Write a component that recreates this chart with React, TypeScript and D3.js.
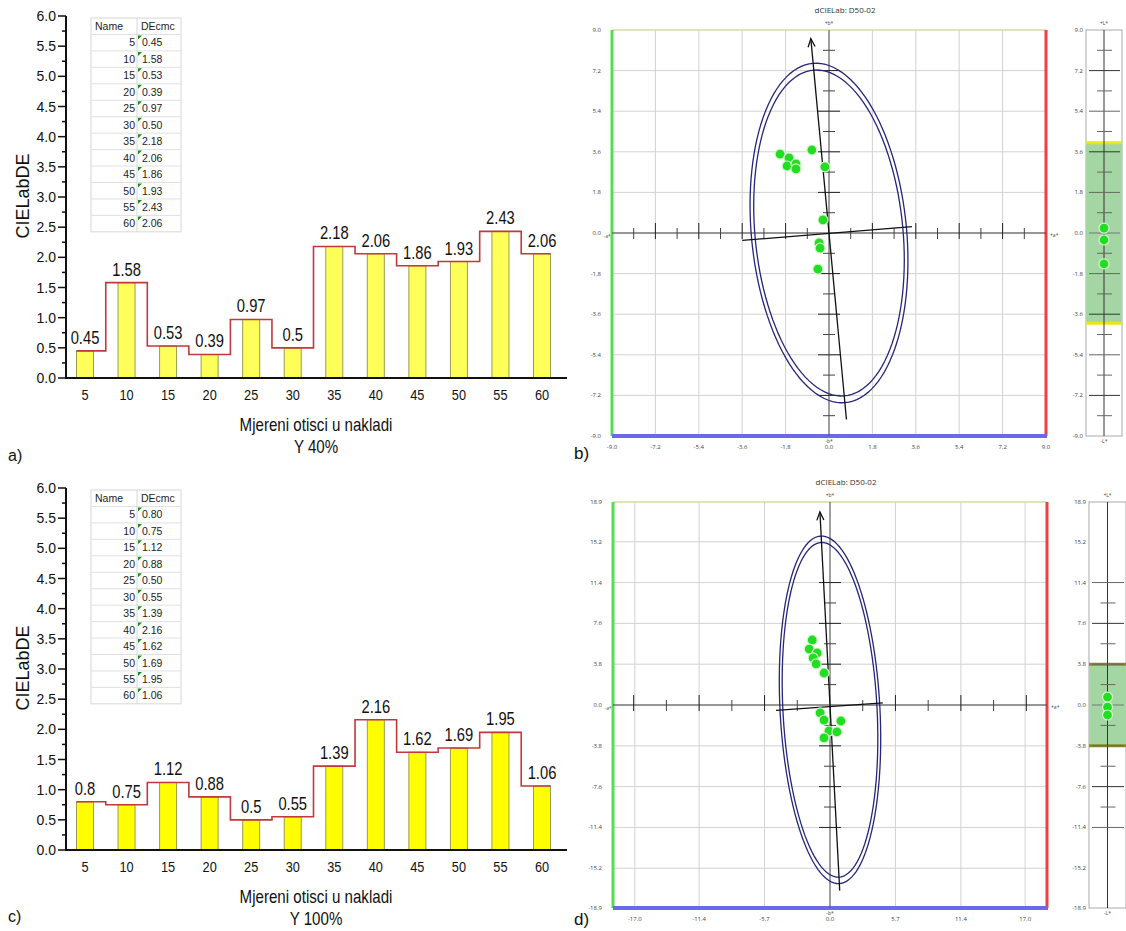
import React from "react";
import * as d3 from "d3";

// ---------- Bar charts (a, c) ----------
const categories = [5, 10, 15, 20, 25, 30, 35, 40, 45, 50, 55, 60];
const deY40 = [0.45, 1.58, 0.53, 0.39, 0.97, 0.5, 2.18, 2.06, 1.86, 1.93, 2.43, 2.06];
const deY40Labels = ["0.45", "1.58", "0.53", "0.39", "0.97", "0.5", "2.18", "2.06", "1.86", "1.93", "2.43", "2.06"];
const deY40Table = ["0.45", "1.58", "0.53", "0.39", "0.97", "0.50", "2.18", "2.06", "1.86", "1.93", "2.43", "2.06"];
const deY100 = [0.8, 0.75, 1.12, 0.88, 0.5, 0.55, 1.39, 2.16, 1.62, 1.69, 1.95, 1.06];
const deY100Labels = ["0.8", "0.75", "1.12", "0.88", "0.5", "0.55", "1.39", "2.16", "1.62", "1.69", "1.95", "1.06"];
const deY100Table = ["0.80", "0.75", "1.12", "0.88", "0.50", "0.55", "1.39", "2.16", "1.62", "1.69", "1.95", "1.06"];
const deMajorTicks = [0, 0.5, 1, 1.5, 2, 2.5, 3, 3.5, 4, 4.5, 5, 5.5, 6];
const deTickLabels = ["0.0", "0.5", "1.0", "1.5", "2.0", "2.5", "3.0", "3.5", "4.0", "4.5", "5.0", "5.5", "6.0"];
const deMinorTicks = [0.25, 0.75, 1.25, 1.75, 2.25, 2.75, 3.25, 3.75, 4.25, 4.75, 5.25, 5.75];
const tableHeader = ["Name", "DEcmc"];
const xTitle = "Mjereni otisci u nakladi";
const yTitle = "CIELabDE";

// ---------- Scatter plots (b, d) ----------
const plotTitle = "dCIELab: D50-02";
const bTickValues = [-9, -7.2, -5.4, -3.6, -1.8, 0, 1.8, 3.6, 5.4, 7.2, 9];
const bTickLabels = ["-9.0", "-7.2", "-5.4", "-3.6", "-1.8", "0.0", "1.8", "3.6", "5.4", "7.2", "9.0"];
const bGrid = [-7.2, -5.4, -3.6, -1.8, 0, 1.8, 3.6, 5.4, 7.2];
const bA = [-2.03, -1.66, -1.74, -1.37, -1.37, -0.71, -0.17, -0.25, -0.41, -0.37, -0.46];
const bB = [3.5, 3.33, 2.97, 3.06, 2.84, 3.68, 2.93, 0.58, -0.44, -0.67, -1.6];
const bL = [0.22, -0.31, -1.37];
const bEllipseOuter = [3.22, 7.55];
const bEllipseInner = [3.07, 7.25];
const bAngle = 5;
const bCenter = [0, 0];
const bMajorAxis = [-8.3, 8.65];
const bMinorAxis = [[-3.6, -0.33], [3.44, 0.28]];
const bBand = [-4.0, 4.0];

const dXTickValues = [-17, -11.4, -5.7, 0, 5.7, 11.4, 17];
const dXTickLabels = ["-17.0", "-11.4", "-5.7", "0.0", "5.7", "11.4", "17.0"];
const dYTickValues = [18.9, 15.2, 11.4, 7.6, 3.8, 0, -3.8, -7.6, -11.4, -15.2, -18.9];
const dYTickLabels = ["18.9", "15.2", "11.4", "7.6", "3.8", "0.0", "-3.8", "-7.6", "-11.4", "-15.2", "-18.9"];
const dXGrid = [-17, -11.4, -5.7, 0, 5.7, 11.4, 17];
const dYGrid = [-15.2, -11.4, -7.6, -3.8, 0, 3.8, 7.6, 11.4, 15.2];
const dA = [-1.55, -1.81, -1.12, -1.47, -1.21, -0.52, -0.86, -0.52, 0.95, -0.09, 0.6, -0.52];
const dB = [6.05, 5.21, 4.84, 4.38, 3.82, 2.98, -0.74, -1.4, -1.49, -2.42, -2.51, -3.07];
const dL = [0.74, -0.19, -0.93];
const dEllipseOuter = [4.35, 16.2];
const dEllipseInner = [4.1, 15.6];
const dAngle = 2.8;
const dCenter = [0, -0.45];
const dMajorAxis = [-17.3, 18.0];
const dMinorAxis = [[-4.7, -0.5], [4.6, 0.2]];
const dBand = [-3.8, 3.8];

const ARIAL = "'Liberation Sans', Arial, sans-serif";
const TINY = "'Open Sans', 'DejaVu Sans', sans-serif";
const NARROW = "'Liberation Sans Narrow', 'Arial Narrow', sans-serif";

function SText({ x, y, sx = 1, size, anchor = "middle", children, fill = "#111", family = ARIAL }: any) {
  return (
    <text
      transform={`translate(${x},${y}) scale(${sx},1)`}
      textAnchor={anchor}
      fontSize={size}
      fontFamily={family}
      fill={fill}
    >
      {children}
    </text>
  );
}

function BarPanel({ values, labels, table, top, subtitle, fill }: any) {
  const x = d3.scalePoint<number>().domain(categories).range([85, 542]);
  const y = d3.scaleLinear().domain([0, 6]).range([top + 362, top]);
  const bw = 17;
  const step = x.step();
  let path = `M${(x(categories[0]) as number) - bw / 2},${y(values[0])}`;
  values.forEach((v: number, i: number) => {
    const cx = x(categories[i]) as number;
    const last = i === values.length - 1;
    path += `H${last ? cx + bw / 2 : cx + step / 2}`;
    if (!last) path += `V${y(values[i + 1])}`;
  });
  const axisX0 = 66;
  const axisX1 = 567;
  const y0 = y(0);
  const tTop = top + 2;
  const rowH = 16.45;
  const tLeft = 91;
  const tRight = 181;
  const tMid = 137;
  const nRows = table.length + 1;
  return (
    <g>
      {/* table */}
      <rect x={tLeft} y={tTop} width={tRight - tLeft} height={rowH * nRows} fill="#fff" stroke="#d6d6d6" />
      {d3.range(1, nRows).map((r) => (
        <line key={r} x1={tLeft} x2={tRight} y1={tTop + r * rowH} y2={tTop + r * rowH} stroke="#e0e0e0" />
      ))}
      <line x1={tMid} x2={tMid} y1={tTop} y2={tTop + rowH * nRows} stroke="#d6d6d6" />
      <text x={tLeft + 4} y={tTop + 11.5} fontSize={10.5} fontFamily={NARROW} fill="#222">{tableHeader[0]}</text>
      <text x={tMid + 4} y={tTop + 11.5} fontSize={10.5} fontFamily={NARROW} fill="#222">{tableHeader[1]}</text>
      {table.map((t: string, i: number) => {
        const ry = tTop + (i + 1) * rowH;
        return (
          <g key={i}>
            <text x={tMid - 2} y={ry + 12} textAnchor="end" fontSize={10.5} fontFamily={NARROW} fill="#222">{categories[i]}</text>
            <polygon points={`${tMid + 1},${ry + 1} ${tMid + 5},${ry + 1} ${tMid + 1},${ry + 5}`} fill="#1a8a1a" />
            <text x={tMid + 5} y={ry + 12} fontSize={10.5} fontFamily={NARROW} fill="#222">{t}</text>
          </g>
        );
      })}
      {/* bars */}
      {values.map((v: number, i: number) => (
        <rect key={i} x={(x(categories[i]) as number) - bw / 2} y={y(v)} width={bw} height={y0 - y(v)} fill={fill} stroke="#9c9c50" strokeWidth={1} />
      ))}
      <path d={path} fill="none" stroke="#c0393d" strokeWidth={1.6} />
      {values.map((v: number, i: number) => (
        <SText key={i} x={x(categories[i])} y={y(v) - 7} sx={0.82} size={18}>{labels[i]}</SText>
      ))}
      {/* axes */}
      <line x1={axisX0} x2={axisX0} y1={top} y2={y0} stroke="#111" strokeWidth={2} />
      <line x1={axisX0 - 1} x2={axisX1} y1={y0} y2={y0} stroke="#111" strokeWidth={2} />
      {deMajorTicks.map((t, i) => (
        <g key={t}>
          <line x1={axisX0 - 8} x2={axisX0} y1={y(t)} y2={y(t)} stroke="#111" strokeWidth={1.5} />
          <text x={axisX0 - 10} y={y(t) + 5} textAnchor="end" fontSize={14} fontFamily={ARIAL} fill="#111">{deTickLabels[i]}</text>
        </g>
      ))}
      {deMinorTicks.map((t) => (
        <line key={t} x1={axisX0 - 4} x2={axisX0} y1={y(t)} y2={y(t)} stroke="#111" strokeWidth={1.5} />
      ))}
      {categories.map((c) => (
        <SText key={c} x={x(c)} y={y0 + 22} sx={0.85} size={15}>{c}</SText>
      ))}
      <SText x={316} y={y0 + 53} sx={0.84} size={18}>{xTitle}</SText>
      <SText x={316} y={y0 + 75} sx={0.84} size={18}>{subtitle}</SText>
      <text transform={`translate(29,${top + 180}) rotate(-90)`} textAnchor="middle" fontSize={18} fontFamily={ARIAL} fill="#111">{yTitle}</text>
    </g>
  );
}

function ellipsePath(xs: any, ys: any, center: number[], r: number[], angleDeg: number) {
  const th = (angleDeg * Math.PI) / 180;
  const pts = d3.range(0, 361, 3).map((deg) => {
    const t = (deg * Math.PI) / 180;
    const ex = r[0] * Math.cos(t);
    const ey = r[1] * Math.sin(t);
    return [center[0] + ex * Math.cos(th) - ey * Math.sin(th), center[1] + ex * Math.sin(th) + ey * Math.cos(th)];
  });
  return d3.line().x((p: any) => xs(p[0])).y((p: any) => ys(p[1])).curve(d3.curveLinearClosed)(pts as any) as string;
}

function ScatterPanel(p: any) {
  const { left, right, top, bottom, xDom, yDom, xTickV, xTickL, yTickV, yTickL, xGrid, yGrid, xStep, yStep, nTicks,
    aVals, bVals, lVals, outer, inner, angle, center, major, minor, band, barLeft, barRight, bandEdge } = p;
  const xs = d3.scaleLinear().domain(xDom).range([left, right]);
  const ys = d3.scaleLinear().domain(yDom).range([bottom, top]);
  const th = (angle * Math.PI) / 180;
  const dir = [-Math.sin(th), Math.cos(th)];
  const a0 = [xs(major[0] * dir[0]), ys(major[0] * dir[1])];
  const a1 = [xs(major[1] * dir[0]), ys(major[1] * dir[1])];
  const ang = Math.atan2(a1[1] - a0[1], a1[0] - a0[0]);
  const head = 9;
  const hA = [a1[0] - head * Math.cos(ang - 0.4), a1[1] - head * Math.sin(ang - 0.4)];
  const hB = [a1[0] - head * Math.cos(ang + 0.4), a1[1] - head * Math.sin(ang + 0.4)];
  const cx0 = xs(0);
  const cy0 = ys(0);
  const ks = d3.range(-nTicks, nTicks + 1).filter((k) => k !== 0);
  const barC = (barLeft + barRight) / 2;
  return (
    <g>
      <text x={(left + right) / 2 + 16} y={top - 17} textAnchor="middle" fontSize={8} fontFamily={TINY} fill="#333">{plotTitle}</text>
      {/* grid */}
      {xGrid.map((g: number) => (
        <line key={"gx" + g} x1={xs(g)} x2={xs(g)} y1={top} y2={bottom} stroke="#d2d2d2" strokeWidth={1} />
      ))}
      {yGrid.map((g: number) => (
        <line key={"gy" + g} x1={left} x2={right} y1={ys(g)} y2={ys(g)} stroke="#d2d2d2" strokeWidth={1} />
      ))}
      {/* borders */}
      <line x1={left} x2={right} y1={top} y2={top} stroke="#d8d8a4" strokeWidth={1.5} />
      <line x1={left} x2={left} y1={top} y2={bottom} stroke="#55dd55" strokeWidth={3} />
      <line x1={right} x2={right} y1={top} y2={bottom} stroke="#ee4040" strokeWidth={3} />
      <line x1={left} x2={right + 1} y1={bottom} y2={bottom} stroke="#6a6ae6" strokeWidth={4} />
      {/* tick labels */}
      {xTickV.map((v: number, i: number) => (
        <text key={"xl" + i} x={xs(v)} y={bottom + 13} textAnchor="middle" fontSize={6} fontFamily={TINY} fill="#444">{xTickL[i]}</text>
      ))}
      {yTickV.map((v: number, i: number) => (
        <text key={"yl" + i} x={left - 11} y={ys(v) + 2} textAnchor="end" fontSize={6} fontFamily={TINY} fill="#444">{yTickL[i]}</text>
      ))}
      <text x={cx0} y={top - 5} textAnchor="middle" fontSize={5} fontFamily={TINY} fill="#444">+b*</text>
      <text x={cx0} y={bottom + 7} textAnchor="middle" fontSize={5} fontFamily={TINY} fill="#444">-b*</text>
      <text x={left - 8} y={cy0 + 5} fontSize={4.5} fontFamily={TINY} fill="#444">-a*</text>
      <text x={right + 4} y={cy0 + 4} fontSize={5} fontFamily={TINY} fill="#444">+a*</text>
      {/* axes cross */}
      <line x1={left} x2={right} y1={cy0} y2={cy0} stroke="#444" strokeWidth={1} />
      <line x1={cx0} x2={cx0} y1={top} y2={bottom} stroke="#555" strokeWidth={1} />
      {ks.map((k) => {
        const mj = k % 2 === 0;
        const px = xs(k * xStep);
        return <line key={"tx" + k} x1={px} x2={px} y1={cy0 - (mj ? 10 : 5)} y2={cy0 + 6} stroke={mj ? "#222" : "#444"} strokeWidth={1} />;
      })}
      {ks.map((k) => {
        const mj = k % 2 === 0;
        const py = ys(k * yStep);
        return <line key={"ty" + k} x1={cx0 - (mj ? 11 : 6)} x2={cx0 + (mj ? 11 : 6)} y1={py} y2={py} stroke={mj ? "#222" : "#444"} strokeWidth={1} />;
      })}
      {/* ellipses */}
      <path d={ellipsePath(xs, ys, center, outer, angle)} fill="none" stroke="#26267a" strokeWidth={1.3} />
      <path d={ellipsePath(xs, ys, center, inner, angle)} fill="none" stroke="#26267a" strokeWidth={1.3} />
      {/* axes of ellipse */}
      <line x1={a0[0]} y1={a0[1]} x2={a1[0]} y2={a1[1]} stroke="#111" strokeWidth={1.3} />
      <polyline points={`${hA[0]},${hA[1]} ${a1[0]},${a1[1]} ${hB[0]},${hB[1]}`} fill="none" stroke="#111" strokeWidth={1.3} />
      <line x1={xs(minor[0][0])} y1={ys(minor[0][1])} x2={xs(minor[1][0])} y2={ys(minor[1][1])} stroke="#111" strokeWidth={1.3} />
      {/* points */}
      {aVals.map((a: number, i: number) => (
        <circle key={"pt" + i} cx={xs(a)} cy={ys(bVals[i])} r={5} fill="#22dd22" stroke="#d6f4d0" strokeWidth={1.2} />
      ))}
      {/* L* bar */}
      <rect x={barLeft} y={top} width={barRight - barLeft} height={bottom - top} fill="#fff" stroke="#aaa" strokeWidth={1} />
      <rect x={barLeft} y={ys(band[1])} width={barRight - barLeft} height={ys(band[0]) - ys(band[1])} fill="#a4d6a4" />
      <line x1={barLeft} x2={barRight} y1={ys(band[1])} y2={ys(band[1])} stroke={bandEdge} strokeWidth={3} />
      <line x1={barLeft} x2={barRight} y1={ys(band[0])} y2={ys(band[0])} stroke={bandEdge} strokeWidth={3} />
      <line x1={barC} x2={barC} y1={top} y2={bottom} stroke="#333" strokeWidth={1} />
      {ks.map((k) => {
        const mj = k % 2 === 0;
        const py = ys(k * yStep);
        return <line key={"lt" + k} x1={mj ? barLeft + 3 : barC - 7} x2={mj ? barRight - 2 : barC + 8} y1={py} y2={py} stroke={k % 4 === 0 ? "#333" : "#666"} strokeWidth={1} />;
      })}
      <line x1={barLeft + 3} x2={barRight - 2} y1={cy0} y2={cy0} stroke="#777" strokeWidth={1} />
      {yTickV.map((v: number, i: number) => (
        <text key={"ll" + i} x={barLeft - 3} y={ys(v) + 2} textAnchor="end" fontSize={6} fontFamily={TINY} fill="#444">{yTickL[i]}</text>
      ))}
      <text x={barC} y={top - 5} textAnchor="middle" fontSize={5} fontFamily={TINY} fill="#444">+L*</text>
      <text x={barC} y={bottom + 7} textAnchor="middle" fontSize={5} fontFamily={TINY} fill="#444">-L*</text>
      {lVals.map((l: number, i: number) => (
        <circle key={"lp" + i} cx={barC} cy={ys(l)} r={5} fill="#22dd22" stroke="#d6f4d0" strokeWidth={1.2} />
      ))}
    </g>
  );
}

export default function App() {
  return (
    <svg width={1126} height={931} style={{ position: "absolute", left: 0, top: 0, background: "#fff" }}>
      <rect width={1126} height={931} fill="#fff" />
      <BarPanel values={deY40} labels={deY40Labels} table={deY40Table} top={16} subtitle="Y 40%" fill="#ffff5a" />
      <BarPanel values={deY100} labels={deY100Labels} table={deY100Table} top={488} subtitle="Y 100%" fill="#ffff00" />
      <ScatterPanel
        left={612} right={1046} top={30} bottom={436} xDom={[-9, 9]} yDom={[-9, 9]}
        xTickV={bTickValues} xTickL={bTickLabels} yTickV={bTickValues} yTickL={bTickLabels}
        xGrid={bGrid} yGrid={bGrid} xStep={0.9} yStep={0.9} nTicks={9}
        aVals={bA} bVals={bB} lVals={bL} outer={bEllipseOuter} inner={bEllipseInner} angle={bAngle}
        center={bCenter} major={bMajorAxis} minor={bMinorAxis} band={bBand} barLeft={1086} barRight={1122} bandEdge="#e8e810"
      />
      <ScatterPanel
        left={613} right={1047} top={502} bottom={908} xDom={[-18.9, 18.9]} yDom={[-18.9, 18.9]}
        xTickV={dXTickValues} xTickL={dXTickLabels} yTickV={dYTickValues} yTickL={dYTickLabels}
        xGrid={dXGrid} yGrid={dYGrid} xStep={2.85} yStep={1.9} nTicks={6}
        aVals={dA} bVals={dB} lVals={dL} outer={dEllipseOuter} inner={dEllipseInner} angle={dAngle}
        center={dCenter} major={dMajorAxis} minor={dMinorAxis} band={dBand} barLeft={1089} barRight={1126} bandEdge="#8a8a28"
      />
      <text x={8} y={461} fontSize={16} fontFamily={ARIAL} fill="#111">a)</text>
      <text x={8} y={922} fontSize={16} fontFamily={ARIAL} fill="#111">c)</text>
      <text x={574} y={459} fontSize={17} fontFamily={ARIAL} fill="#111">b)</text>
      <text x={574} y={925} fontSize={17} fontFamily={ARIAL} fill="#111">d)</text>
    </svg>
  );
}
